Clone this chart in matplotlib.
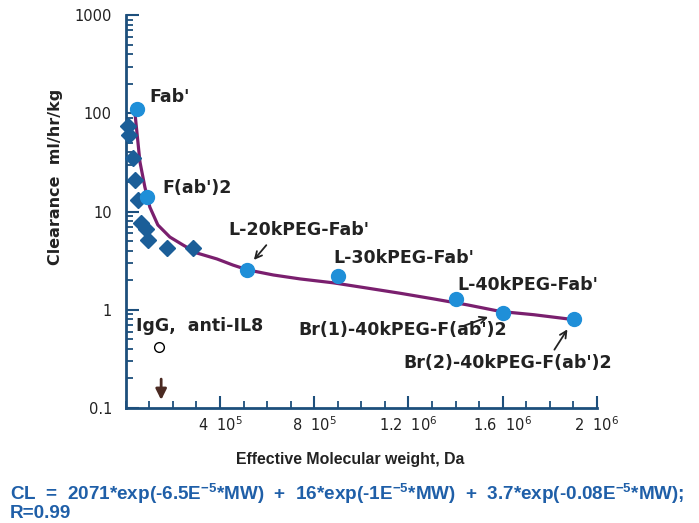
import matplotlib
matplotlib.use("Agg")
import matplotlib.pyplot as plt
import numpy as np

plt.rcParams['font.family'] = ['DejaVu Sans']
plt.rcParams['mathtext.fontset'] = 'custom'
plt.rcParams['mathtext.rm'] = 'DejaVu Sans'
plt.rcParams['mathtext.bf'] = 'Liberation Sans:bold'

# antibody fragments (filled circles)
frag_labels = ["Fab'", "F(ab')2", "L-20kPEG-Fab'", "L-30kPEG-Fab'", "L-40kPEG-Fab'",
               "Br(1)-40kPEG-F(ab')2", "Br(2)-40kPEG-F(ab')2"]
frag_mw = [47000, 90600, 515000, 899000, 1403000, 1601000, 1903000]
frag_cl = [110, 14.2, 2.54, 2.21, 1.285, 0.92, 0.805]

# other proteins (diamonds)
other_mw = [7400, 12800, 29800, 37000, 51000, 65000, 84000, 93000, 176000, 285000]
other_cl = [74, 60, 34.8, 20.9, 13.1, 7.6, 6.6, 5.1, 4.29, 4.29]

# IgG anti-IL8 (open circle)
igg_mw = [142000]
igg_cl = [0.42]

# fitted curve
fit_mw = [38000, 60000, 81000, 102000, 136000, 187000, 243000, 302000, 387000, 455000,
          519000, 626000, 740000, 881000, 1026000, 1166000, 1306000, 1451000, 1591000,
          1732000, 1889000]
fit_cl = [105, 32, 17.7, 11.1, 7.3, 5.5, 4.56, 3.78, 3.29, 2.85,
          2.54, 2.26, 2.06, 1.88, 1.66, 1.47, 1.29, 1.12, 0.96,
          0.89, 0.80]

xticks = [4e5, 8e5, 1.2e6, 1.6e6, 2e6]
xtick_labels = [r'4  $\mathrm{10^5}$', r'8  $\mathrm{10^5}$', r'1.2  $\mathrm{10^6}$',
                r'1.6  $\mathrm{10^6}$', r'2  $\mathrm{10^6}$']
yticks = [0.1, 1, 10, 100, 1000]
ytick_labels = ['0.1', '1', '10', '100', '1000']

axis_col = '#1d4f7c'
circ_col = '#1f8fd8'
diam_col = '#1b5e98'
line_col = '#7a1f6e'

fig = plt.figure(figsize=(6.99, 5.23), dpi=100)
ax = fig.add_axes([0.180, 0.220, 0.674, 0.751])

ax.plot(fit_mw, fit_cl, color=line_col, lw=2.3, zorder=2)
ax.plot(other_mw, other_cl, 'D', color=diam_col, markersize=8, zorder=3, clip_on=False)
ax.plot(frag_mw, frag_cl, 'o', color=circ_col, markersize=10, zorder=4)
ax.plot(igg_mw, igg_cl, 'o', mfc='white', mec='black', mew=1, markersize=7, zorder=4)

ax.set_yscale('log')
ax.set_xlim(0, 2e6)
ax.set_ylim(0.1, 1000)

for s in ['top', 'right']:
    ax.spines[s].set_visible(False)
for s in ['left', 'bottom']:
    ax.spines[s].set_color(axis_col)
    ax.spines[s].set_linewidth(2)

ax.set_xticks(xticks)
ax.set_xticklabels(xtick_labels)
ax.set_xticks(np.arange(0, 2.0e6 + 1, 1e5), minor=True)
ax.set_yticks(yticks)
ax.set_yticklabels(ytick_labels)
ax.tick_params(which='major', direction='in', length=9, width=1.5, color=axis_col,
               labelsize=10.5, labelcolor='#222222')
ax.tick_params(which='minor', direction='in', length=5, width=1.3, color=axis_col)
ax.tick_params(axis='y', pad=10)
ax.tick_params(axis='x', pad=5)

ax.set_ylabel('Clearance  ml/hr/kg', fontsize=11.5, fontweight='bold', color='#222222')
ax.yaxis.set_label_coords(-0.134, 0.588)
ax.set_xlabel('Effective Molecular weight, Da', fontsize=11.4, fontweight='bold',
              color='#222222', family='Liberation Sans')
ax.xaxis.set_label_coords(0.476, -0.112)

tkw = dict(fontsize=12.5, fontweight='bold', color='#222222', va='center', ha='left')
arr = dict(arrowstyle='->', color='#222222', lw=1.3, mutation_scale=12)
ax.text(102000, 146, "Fab'", **tkw)
ax.text(157000, 17.3, "F(ab')2", **tkw)
ax.text(434000, 6.5, "L-20kPEG-Fab'", **tkw)
ax.annotate('', xy=(536000, 3.06), xytext=(604000, 4.78), arrowprops=arr)
ax.text(881000, 3.37, "L-30kPEG-Fab'", **tkw)
ax.text(1409000, 1.79, "L-40kPEG-Fab'", **tkw)
ax.text(732000, 0.622, "Br(1)-40kPEG-F(ab')2", **tkw)
ax.annotate('', xy=(1549000, 0.863), xytext=(1421000, 0.667), arrowprops=arr)
ax.text(1179000, 0.287, "Br(2)-40kPEG-F(ab')2", **tkw)
ax.annotate('', xy=(1881000, 0.667), xytext=(1813000, 0.371), arrowprops=arr)
ax.text(42500, 0.684, "IgG,  anti-IL8", **tkw)
ax.annotate('', xy=(150000, 0.113), xytext=(150000, 0.21),
            arrowprops=dict(arrowstyle='-|>', color='#4b2a22', lw=2, mutation_scale=16))

eq = (r"CL  =  2071*exp(-6.5E$^{\mathbf{-5}}$*MW)  +  16*exp(-1E$^{\mathbf{-5}}$*MW)  +  "
      r"3.7*exp(-0.08E$^{\mathbf{-5}}$*MW);" + "\nR=0.99")
fig.text(10 / 699, 1 - 481 / 523, eq, fontsize=13.6, fontweight='bold', color='#1f5fa8',
         ha='left', va='top', linespacing=0.95, family='Liberation Sans')

fig.savefig('out.png', dpi=100)
